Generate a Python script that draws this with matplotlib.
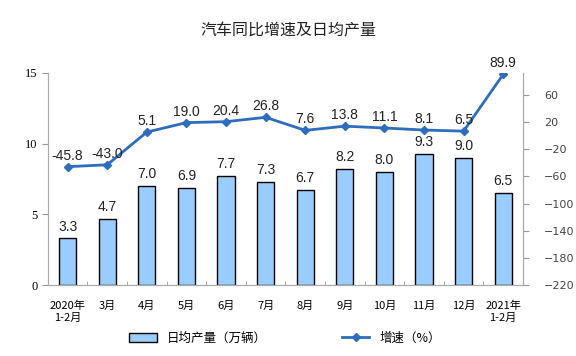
import matplotlib.pyplot as plt
import numpy as np

plt.rcParams['font.family'] = ['Noto Sans CJK SC', 'DejaVu Sans']

categorias = ['2020年\n1-2月', '3月', '4月', '5月', '6月', '7月', '8月',
              '9月', '10月', '11月', '12月', '2021年\n1-2月']
produccion = [3.3, 4.7, 7.0, 6.9, 7.7, 7.3, 6.7, 8.2, 8.0, 9.3, 9.0, 6.5]
crecimiento = [-45.8, -43.0, 5.1, 19.0, 20.4, 26.8, 7.6, 13.8, 11.1, 8.1, 6.5, 89.9]

fig = plt.figure(figsize=(5.76, 3.56), dpi=100)
ax = fig.add_axes([0.083, 0.199, 0.825, 0.596])
ax2 = ax.twinx()

x = np.arange(len(categorias))
barras = ax.bar(x, produccion, width=0.43, color='#99CCFF', edgecolor='black',
                linewidth=1.0, label='日均产量（万辆）', zorder=2)
for xi, v in zip(x, produccion):
    ax.text(xi, v + 0.35, '{:.1f}'.format(v), ha='center', va='bottom',
            fontsize=10, family='Liberation Sans', color='#222222')

linea, = ax2.plot(x, crecimiento, color='#2E6DBE', linewidth=2, marker='D',
                  markersize=4.5, label='增速（%）', zorder=3)
for xi, v in zip(x, crecimiento):
    ax2.text(xi, v + 6, '{:.1f}'.format(v), ha='center', va='bottom',
             fontsize=10, family='Liberation Sans', color='#222222')

ax.set_xlim(-0.5, len(categorias) - 0.5)
ax.set_ylim(0, 15)
ax.set_yticks([0, 5, 10, 15])
ax.set_yticklabels(['0', '5', '10', '15'], family='Liberation Serif', fontsize=9)
ax2.set_ylim(-220, 92)
ax2.set_yticks(np.arange(-220, 61, 40))
ax2.set_yticklabels([str(t).replace('-', '−') for t in range(-220, 61, 40)],
                    fontsize=8, family='DejaVu Sans', color='#444444')

ax.set_xticks(x)
ax.set_xticklabels(categorias, fontsize=8, linespacing=1.3)
ax.set_xticks(np.arange(-0.5, len(categorias)), minor=True)
ax.tick_params(axis='x', which='major', length=0, pad=11)
ax.tick_params(axis='x', which='minor', length=3, color='#999999', direction='in')
ax.tick_params(axis='y', length=4, color='#999999')
ax2.tick_params(axis='y', length=4, color='#999999', pad=11)

for a in (ax, ax2):
    a.spines['top'].set_visible(False)
    for s in ('left', 'right', 'bottom'):
        a.spines[s].set_color('#aaaaaa')

fig.text(0.5, 0.9, '汽车同比增速及日均产量', ha='center', fontsize=11.5, color='#222222')
fig.legend(handles=[barras, linea], loc='lower center', bbox_to_anchor=(0.495, 0.0),
           ncol=2, frameon=False, fontsize=9, columnspacing=6, handlelength=2.2)

fig.savefig('out.png', dpi=100)
